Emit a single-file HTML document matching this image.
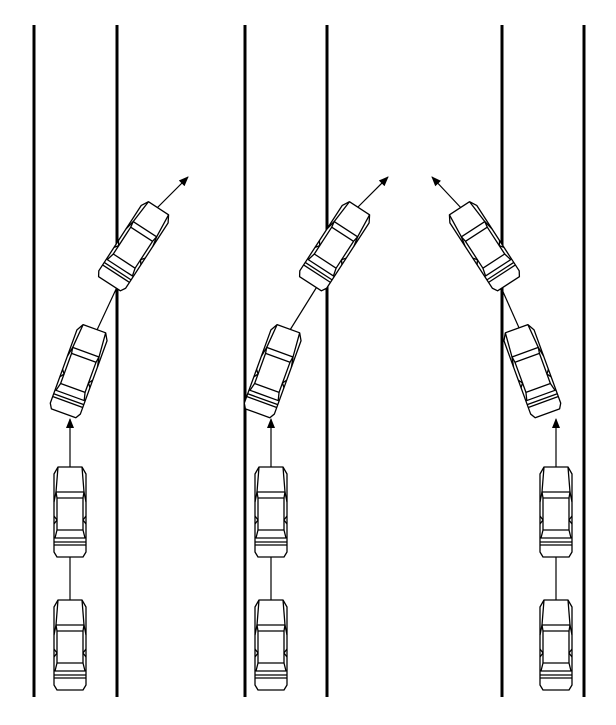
<!DOCTYPE html>
<html><head><style>html,body{margin:0;background:#fff}</style></head><body>
<svg width="616" height="720" viewBox="0 0 616 720" xmlns="http://www.w3.org/2000/svg">
<defs>
<g id="car" fill="none" stroke="#000" stroke-width="1.3" stroke-linejoin="round">
<path d="M-12,-45 L12,-45 L16,-38 L16,40 L13,45 L-13,45 L-16,40 L-16,-38 Z" fill="#fff"/>
<path d="M-12,-45 L-14,-20 M12,-45 L14,-20"/>
<path d="M-14,-20 L14,-20 L13,-14 L-13,-14 Z"/>
<path d="M-13,-14 L-13,18 M13,-14 L13,18"/>
<path d="M-14,-20 L-16,-10 M14,-20 L16,-10"/>
<path d="M-16,4 L-13,8 L-16,12 M16,4 L13,8 L16,12"/>
<path d="M-13,18 L13,18 L15,26 L-15,26 Z"/>
<path d="M-16,30 L16,30 M-16,33 L16,33"/>
</g>
<marker id="ah" markerWidth="10" markerHeight="10" refX="9" refY="5" orient="auto" markerUnits="userSpaceOnUse"><path d="M0,1 L10,5 L0,9 Z" fill="#000"/></marker>
</defs>
<g stroke="#000" stroke-width="3">
<line x1="34" y1="25" x2="34" y2="697"/><line x1="117" y1="25" x2="117" y2="697"/>
<line x1="245" y1="25" x2="245" y2="697"/><line x1="327" y1="25" x2="327" y2="697"/>
<line x1="502" y1="25" x2="502" y2="697"/><line x1="584" y1="25" x2="584" y2="697"/>
</g>
<g stroke="#000" stroke-width="1.2" fill="none">
<!-- left -->
<line x1="70" y1="600" x2="70" y2="555"/>
<line x1="70" y1="468" x2="70" y2="419" marker-end="url(#ah)"/>
<line x1="97" y1="330" x2="118" y2="285"/>
<line x1="155" y1="210" x2="188" y2="177" marker-end="url(#ah)"/>
<!-- middle -->
<line x1="271" y1="600" x2="271" y2="555"/>
<line x1="271" y1="468" x2="271" y2="419" marker-end="url(#ah)"/>
<line x1="290" y1="330" x2="318" y2="285"/>
<line x1="355" y1="210" x2="388" y2="177" marker-end="url(#ah)"/>
<!-- right -->
<line x1="556" y1="600" x2="556" y2="555"/>
<line x1="556" y1="468" x2="556" y2="419" marker-end="url(#ah)"/>
<line x1="520" y1="330" x2="500" y2="285"/>
<line x1="463" y1="210" x2="432" y2="177" marker-end="url(#ah)"/>
</g>
<use href="#car" transform="translate(70,645)"/>
<use href="#car" transform="translate(70,512)"/>
<use href="#car" transform="translate(79,371) rotate(20)"/>
<use href="#car" transform="translate(134,246) rotate(33)"/>
<use href="#car" transform="translate(271,645)"/>
<use href="#car" transform="translate(271,512)"/>
<use href="#car" transform="translate(273,371) rotate(20)"/>
<use href="#car" transform="translate(335,246) rotate(33)"/>
<use href="#car" transform="translate(556,645)"/>
<use href="#car" transform="translate(556,512)"/>
<use href="#car" transform="translate(532,371) rotate(-20)"/>
<use href="#car" transform="translate(484,246) rotate(-33)"/>
</svg>
</body></html>
